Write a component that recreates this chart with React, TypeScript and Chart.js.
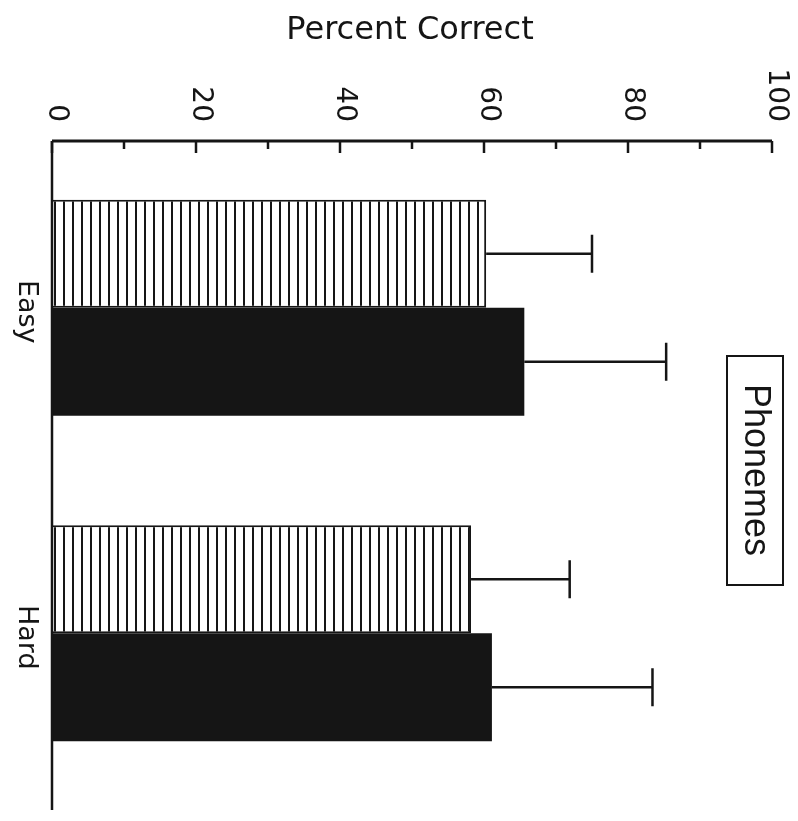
import React, { useEffect, useRef } from "react";
import { Chart, registerables } from "chart.js";

Chart.register(...registerables);

const categories = ["Easy", "Hard"];
const hatchedValues = [60.3, 58.2];
const hatchedErrTop = [75.0, 71.9];
const solidValues = [65.6, 61.1];
const solidErrTop = [85.3, 83.4];
const tickValues = [0, 20, 40, 60, 80, 100];
const minorTickValues = [10, 30, 50, 70, 90];
const axisTitle = "Percent Correct";
const legendText = "Phonemes";

function makeHatch(): CanvasPattern | string {
  const c = document.createElement("canvas");
  c.width = 9;
  c.height = 4;
  const g = c.getContext("2d");
  if (!g) return "#fff";
  g.fillStyle = "#ffffff";
  g.fillRect(0, 0, 9, 4);
  g.fillStyle = "#151515";
  g.fillRect(0, 0, 2, 4);
  const p = g.createPattern(c, "repeat");
  return p || "#fff";
}

const decorPlugin = {
  id: "decor",
  afterDatasetsDraw(chart: any) {
    const ctx = chart.ctx;
    const xs = chart.scales.x;
    ctx.save();
    ctx.strokeStyle = "#151515";
    ctx.lineWidth = 2.5;
    const tops = [hatchedErrTop, solidErrTop];
    const vals = [hatchedValues, solidValues];
    for (let d = 0; d < 2; d++) {
      const meta = chart.getDatasetMeta(d);
      meta.data.forEach((bar: any, i: number) => {
        const y = bar.y;
        const x0 = xs.getPixelForValue(vals[d][i]);
        const x1 = xs.getPixelForValue(tops[d][i]);
        ctx.beginPath();
        ctx.moveTo(x0, y);
        ctx.lineTo(x1, y);
        ctx.moveTo(x1, y - 19);
        ctx.lineTo(x1, y + 19);
        ctx.stroke();
      });
    }
    ctx.restore();
  },
  afterDraw(chart: any) {
    const ctx = chart.ctx;
    const xs = chart.scales.x;
    const ys = chart.scales.y;
    const area = chart.chartArea;
    const axisY = 141;
    ctx.save();
    ctx.strokeStyle = "#151515";
    ctx.fillStyle = "#151515";
    // axes
    ctx.lineWidth = 3;
    ctx.beginPath();
    ctx.moveTo(xs.getPixelForValue(0), axisY);
    ctx.lineTo(xs.getPixelForValue(100), axisY);
    ctx.stroke();
    ctx.lineWidth = 2.5;
    ctx.beginPath();
    ctx.moveTo(xs.getPixelForValue(0), axisY);
    ctx.lineTo(xs.getPixelForValue(0), 810);
    ctx.stroke();
    // ticks
    ctx.lineWidth = 2.5;
    tickValues.forEach((v) => {
      const x = xs.getPixelForValue(v);
      ctx.beginPath();
      ctx.moveTo(x, axisY);
      ctx.lineTo(x, axisY + 12);
      ctx.stroke();
    });
    minorTickValues.forEach((v) => {
      const x = xs.getPixelForValue(v);
      ctx.beginPath();
      ctx.moveTo(x, axisY);
      ctx.lineTo(x, axisY + 8);
      ctx.stroke();
    });
    // tick labels rotated clockwise
    ctx.font = "28px 'DejaVu Sans'";
    tickValues.forEach((v) => {
      const x = xs.getPixelForValue(v) + 4;
      ctx.save();
      ctx.translate(x, 122);
      ctx.rotate(Math.PI / 2);
      ctx.textAlign = "right";
      ctx.textBaseline = "middle";
      ctx.fillText(String(v), 0, 0);
      ctx.restore();
    });
    // category labels
    ctx.font = "27px 'DejaVu Sans'";
    categories.forEach((c, i) => {
      const y = ys.getPixelForValue(i) + 4;
      ctx.save();
      ctx.translate(26, y);
      ctx.rotate(Math.PI / 2);
      ctx.textAlign = "center";
      ctx.textBaseline = "middle";
      ctx.fillText(c, 0, 0);
      ctx.restore();
    });
    // title
    ctx.font = "32px 'DejaVu Sans'";
    ctx.textAlign = "center";
    ctx.textBaseline = "middle";
    ctx.fillText(axisTitle, 410, 31);
    // legend box
    ctx.lineWidth = 2;
    ctx.strokeRect(727, 356, 56, 229);
    ctx.font = "36px 'Liberation Sans'";
    ctx.save();
    ctx.translate(755, 470);
    ctx.rotate(Math.PI / 2);
    ctx.textAlign = "center";
    ctx.textBaseline = "middle";
    ctx.fillText(legendText, 0, 0);
    ctx.restore();
    ctx.restore();
  },
};

export default function App() {
  const ref = useRef<HTMLCanvasElement | null>(null);
  useEffect(() => {
    if (!ref.current) return;
    const hatch = makeHatch();
    const chart = new Chart(ref.current, {
      type: "bar",
      data: {
        labels: categories,
        datasets: [
          {
            label: "hatched",
            data: hatchedValues,
            backgroundColor: hatch as any,
            borderColor: "#151515",
            borderWidth: 2,
            borderSkipped: "start",
          },
          {
            label: "solid",
            data: solidValues,
            backgroundColor: "#151515",
            borderColor: "#151515",
            borderWidth: 0,
          },
        ],
      },
      options: {
        indexAxis: "y",
        animation: false,
        responsive: false,
        events: [],
        layout: { padding: { left: 52, right: 26, top: 145, bottom: 25 } },
        datasets: { bar: { categoryPercentage: 0.664, barPercentage: 1 } },
        plugins: { legend: { display: false }, tooltip: { enabled: false }, title: { display: false } },
        scales: {
          x: { type: "linear", position: "top", min: 0, max: 100, display: false },
          y: { type: "category", display: false },
        },
      },
      plugins: [decorPlugin],
    });
    return () => chart.destroy();
  }, []);
  return (
    <div style={{ position: "absolute", left: 0, top: 0, width: 798, height: 821, background: "#fff" }}>
      <canvas ref={ref} width={798} height={821} style={{ display: "block" }} />
    </div>
  );
}
